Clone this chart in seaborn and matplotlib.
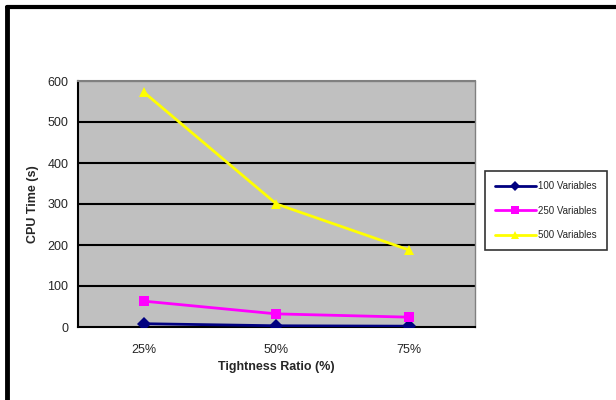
import seaborn as sns
import matplotlib.pyplot as plt
import pandas as pd

ratios = ["25%", "50%", "75%"]
series = ["100 Variables", "250 Variables", "500 Variables"]
vars_100 = [8, 3, 2]
vars_250 = [63, 32, 24]
vars_500 = [572, 300, 188]

sns.set_style("white")
plt.rcParams['font.family'] = ['Liberation Sans', 'DejaVu Sans']

rows = []
for name, vals in zip(series, [vars_100, vars_250, vars_500]):
    for i, v in enumerate(vals):
        rows.append({"pos": i, "ratio": ratios[i], "series": name, "cpu": v})
data = pd.DataFrame(rows)

palette = {"100 Variables": "#000080", "250 Variables": "#FF00FF", "500 Variables": "#FFFF00"}
markers = {"100 Variables": "D", "250 Variables": "s", "500 Variables": "^"}

fig = plt.figure(figsize=(6.16, 4.0), dpi=100)
ax = fig.add_axes([78 / 616, 73 / 400, 397 / 616, 246 / 400])
ax.set_facecolor("#C0C0C0")

# horizontal gridlines
for y in range(100, 601, 100):
    ax.axhline(y, color="black", lw=1.5, zorder=1)

sns.lineplot(x="pos", y="cpu", hue="series", style="series", data=data,
             palette=palette, markers=markers, dashes=False, lw=2,
             markersize=7, markeredgewidth=0, ax=ax, zorder=3)

ax.set_xlim(-0.5, 2.5)
ax.set_ylim(0, 600)
ax.set_yticks(range(0, 601, 100))
ax.set_xticks([-0.5, 0.5, 1.5, 2.5])
ax.set_xticklabels([])
ax.set_xticks(range(3), minor=True)
ax.set_xticklabels(ratios, minor=True)
ax.tick_params(axis="x", which="minor", length=0, pad=12, labelsize=9)
ax.tick_params(axis="x", which="major", direction="out", length=4, width=1.5, color="black")
ax.tick_params(axis="y", direction="out", length=4, width=1.5, color="black", labelsize=9, pad=3)
ax.set_xlabel("Tightness Ratio (%)", fontsize=9, fontweight="bold", labelpad=4)
ax.set_ylabel("CPU Time (s)", fontsize=9, fontweight="bold", labelpad=6)

for side in ["left", "bottom"]:
    ax.spines[side].set_color("black")
    ax.spines[side].set_linewidth(1.5)
ax.spines["top"].set_color("#808080")
ax.spines["top"].set_linewidth(1.5)
ax.spines["right"].set_color("#808080")
ax.spines["right"].set_linewidth(1)

handles, labels = ax.get_legend_handles_labels()
leg = ax.legend(handles, labels, loc="center left", bbox_to_anchor=(485 / 616, 1 - 210.5 / 400),
                bbox_transform=fig.transFigure, frameon=True, fontsize=7,
                fancybox=False, edgecolor="black", handlelength=4.2,
                labelspacing=1.5, borderpad=1.0, handletextpad=0.3,
                markerscale=0.75, borderaxespad=0)
leg.get_frame().set_linewidth(1.2)
leg._legend_box.align = "left"

# outer chart frame (left and top edges visible)
fig.add_artist(plt.Line2D([7 / 616, 7 / 616], [0, 1 - 7 / 400], color="black", lw=3.5,
                          transform=fig.transFigure))
fig.add_artist(plt.Line2D([7 / 616, 1], [1 - 7 / 400, 1 - 7 / 400], color="black", lw=3,
                          transform=fig.transFigure))

fig.savefig("out.png", dpi=100)
